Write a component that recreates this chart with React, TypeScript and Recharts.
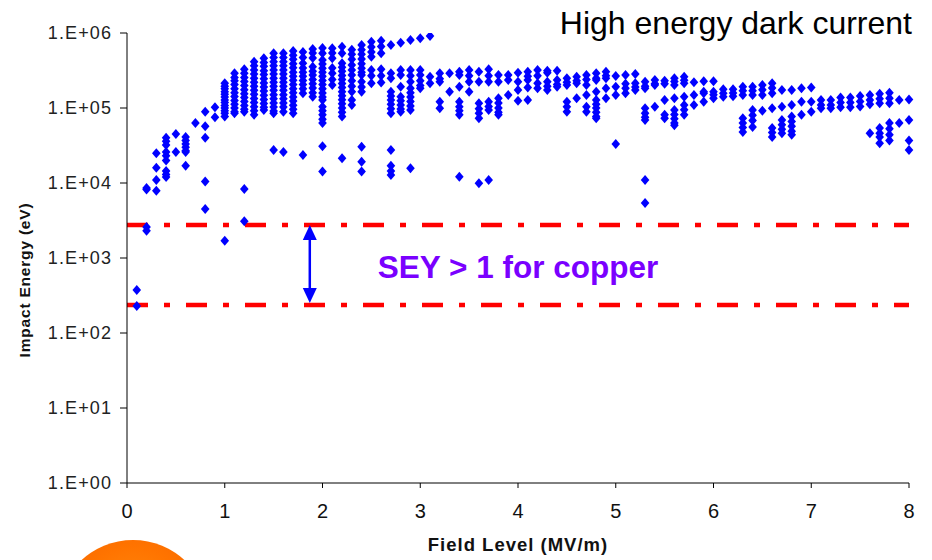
import React from 'react';
import { ScatterChart, Scatter, XAxis, YAxis, ReferenceLine, ReferenceDot } from 'recharts';

// Field level (MV/m) of each column of impacts
const fieldLevels = [
  0.1, 0.2, 0.3, 0.4, 0.5, 0.6, 0.7, 0.8, 0.9, 1.0,
  1.1, 1.2, 1.3, 1.4, 1.5, 1.6, 1.7, 1.8, 1.9, 2.0,
  2.1, 2.2, 2.3, 2.4, 2.5, 2.6, 2.7, 2.8, 2.9, 3.0,
  3.1, 3.2, 3.3, 3.4, 3.5, 3.6, 3.7, 3.8, 3.9, 4.0,
  4.1, 4.2, 4.3, 4.4, 4.5, 4.6, 4.7, 4.8, 4.9, 5.0,
  5.1, 5.2, 5.3, 5.4, 5.5, 5.6, 5.7, 5.8, 5.9, 6.0,
  6.1, 6.2, 6.3, 6.4, 6.5, 6.6, 6.7, 6.8, 6.9, 7.0,
  7.1, 7.2, 7.3, 7.4, 7.5, 7.6, 7.7, 7.8, 7.9, 8.0,
];

// Impact energies (eV) read for each field level, same order
const impactEnergies: number[][] = [
  [374, 229],
  [8600, 8200, 2600, 2300],
  [25000, 16000, 11000, 7900],
  [40000, 36000, 32000, 26000, 23000, 20000, 14500, 13000, 12000],
  [45000, 26000],
  [41000, 37000, 33000, 30000, 27000, 26000, 17000],
  [63000],
  [89000, 57000, 40000, 10500, 4500],
  [102000, 75000],
  [213000, 195000, 180000, 165000, 152000, 140000, 128000, 118000, 108000, 100000, 92000, 85000, 77000, 1700],
  [290000, 255000, 230000, 205000, 180000, 160000, 142000, 126000, 112000, 100000, 89000, 85000],
  [328000, 290000, 255000, 225000, 200000, 175000, 155000, 138000, 122000, 108000, 96000, 89000, 8300, 3100],
  [414000, 365000, 320000, 285000, 250000, 220000, 195000, 172000, 152000, 134000, 118000, 104000, 92000, 81000],
  [460000, 405000, 360000, 315000, 280000, 245000, 215000, 190000, 168000, 148000, 130000, 115000, 102000, 94000],
  [536000, 470000, 415000, 365000, 320000, 285000, 250000, 220000, 195000, 172000, 150000, 133000, 117000, 103000, 91000, 85000, 27500],
  [536000, 470000, 415000, 365000, 320000, 285000, 250000, 220000, 195000, 172000, 150000, 133000, 117000, 103000, 89000, 26000],
  [575000, 505000, 445000, 390000, 345000, 300000, 265000, 235000, 205000, 180000, 160000, 140000, 124000, 109000, 96000, 85000],
  [560000, 470000, 394000, 341000, 300000, 265000, 232000, 205000, 180000, 157000, 23600],
  [612000, 540000, 465000, 355000, 310000, 275000, 240000, 210000, 185000, 160000, 141000],
  [631000, 536000, 437000, 385000, 340000, 300000, 265000, 232000, 205000, 180000, 158000, 140000, 128000, 104000, 92000, 81000, 71000, 63000, 31000, 14200],
  [625000, 540000, 460000, 341000, 290000, 240000, 203000],
  [657000, 536000, 394000, 350000, 310000, 272000, 240000, 212000, 187000, 165000, 146000, 129000, 114000, 100000, 88000, 77000, 21300],
  [600000, 520000, 445000, 374000, 321000, 275000, 230000, 195000, 165000, 128000, 110000],
  [692000, 600000, 520000, 450000, 390000, 340000, 300000, 275000, 224000, 190000, 165000, 30500, 19200, 14200],
  [766000, 650000, 560000, 483000, 321000, 270000, 213000],
  [789000, 660000, 536000, 328000, 270000, 218000],
  [692000, 290000, 249000, 165000, 145000, 128000, 112000, 98000, 85000, 27500, 17000, 14500, 12800],
  [743000, 321000, 275000, 192000, 141000, 125000, 110000, 97000, 89000],
  [807000, 321000, 270000, 224000, 183000, 160000, 140000, 122000, 106000, 94000, 15700],
  [850000, 321000, 275000, 230000, 200000, 183000],
  [912000, 261000, 213000],
  [290000, 245000, 224000, 121000, 99000],
  [290000, 165000],
  [305000, 275000, 192000, 121000, 104000, 92000, 81000, 12100],
  [321000, 270000, 224000, 165000],
  [305000, 224000, 116000, 98000, 85000, 73000, 9900],
  [328000, 270000, 224000, 121000, 105000, 94000, 11000],
  [275000, 224000, 135000, 117000, 100000, 88000, 81000],
  [275000, 236000, 149000],
  [296000, 224000, 174000, 125000],
  [305000, 265000, 236000, 187000, 128000],
  [321000, 270000, 213000, 183000],
  [314000, 296000, 224000, 195000, 174000],
  [314000, 236000, 205000, 192000],
  [249000, 220000, 203000, 121000, 104000, 89000],
  [261000, 230000, 213000, 135000],
  [275000, 240000, 203000, 149000, 104000, 89000],
  [290000, 250000, 236000, 165000, 128000, 112000, 100000, 88000, 77000, 73000],
  [305000, 270000, 249000, 183000, 135000],
  [267000, 192000, 149000, 33000],
  [275000, 210000, 183000, 157000],
  [285000, 213000, 190000, 174000],
  [224000, 195000, 183000, 99000, 85000, 75000, 69000, 11000, 5400],
  [236000, 210000, 203000, 104000],
  [230000, 210000, 128000, 81000, 73000],
  [249000, 225000, 203000, 135000, 94000, 82000, 72000, 63000, 59000],
  [261000, 235000, 213000, 141000, 110000, 95000, 81000],
  [220000, 149000, 110000],
  [228000, 165000, 157000, 121000],
  [228000, 165000, 150000, 135000],
  [178000, 157000, 141000],
  [178000, 158000, 143000],
  [192000, 170000, 149000, 73000, 63000, 55000, 48000],
  [192000, 170000, 149000, 94000, 80000, 68000, 56000],
  [203000, 175000, 149000, 92000],
  [213000, 185000, 157000, 99000, 54000, 47000, 41000],
  [174000, 104000, 69000, 60000, 52000, 46000],
  [174000, 110000, 77000, 66000, 57000, 49000, 44000],
  [183000, 121000, 81000],
  [187000, 121000, 89000],
  [128000, 110000, 99000],
  [128000, 110000, 99000],
  [138000, 118000, 102000],
  [138000, 118000, 102000],
  [145000, 122000, 105000],
  [149000, 128000, 112000, 46000],
  [155000, 133000, 116000, 54000, 46000, 41000, 34000],
  [160000, 135000, 116000, 63000, 53000, 44000, 37000],
  [128000, 63000],
  [130000, 69000, 37000, 27500],
];

const xTicks = [0, 1, 2, 3, 4, 5, 6, 7, 8];
const yTicks = [1, 10, 100, 1000, 10000, 100000, 1000000];
const seyBounds = [2750, 236]; // SEY > 1 energy window for copper (eV)
const arrowField = 1.87;
const seyLabelPos = { x: 4.0, y: 760 };
const titleText = 'High energy dark current';
const seyText = 'SEY > 1 for copper';

const points = fieldLevels.flatMap((f, i) => impactEnergies[i].map((e) => ({ x: f, y: e })));

const fmtY = (v: number) => `1.E+${String(Math.round(Math.log10(v))).padStart(2, '0')}`;

const Diamond = (props: any) => {
  const { cx, cy } = props;
  if (cx == null || cy == null) return null;
  return (
    <path
      d={`M${cx},${cy - 5} L${cx + 4.3},${cy} L${cx},${cy + 5} L${cx - 4.3},${cy} Z`}
      fill="#0000FF"
    />
  );
};

const DoubleArrow = (props: any) => {
  const { x1, y1, x2, y2 } = props;
  const x = x1;
  const top = Math.min(y1, y2);
  const bot = Math.max(y1, y2);
  const hw = 7;
  const hh = 15;
  return (
    <g>
      <line x1={x} y1={top + hh - 1} x2={x2} y2={bot - hh + 1} stroke="#0000FF" strokeWidth={2.5} />
      <path d={`M${x},${top} L${x + hw},${top + hh} L${x - hw},${top + hh} Z`} fill="#0000FF" />
      <path d={`M${x},${bot - 2} L${x + hw},${bot - hh - 2} L${x - hw},${bot - hh - 2} Z`} fill="#0000FF" />
    </g>
  );
};

const tickFont = 'Liberation Sans, Arial, sans-serif';

export default function App() {
  return (
    <div style={{ position: 'relative', width: 932, height: 560, overflow: 'hidden', background: '#fff' }}>
      <style>{'body{margin:0;}'}</style>
      <div
        style={{
          position: 'absolute',
          left: 57,
          top: 540,
          width: 152,
          height: 152,
          borderRadius: '50%',
          background: 'radial-gradient(circle at 50% 40%, #ff8c10 0%, #ff7400 45%, #f25c00 100%)',
        }}
      />
      <ScatterChart width={932} height={560} margin={{ top: 33, right: 23, bottom: 0, left: 0 }}>
        <XAxis
          type="number"
          dataKey="x"
          domain={[0, 8]}
          ticks={xTicks}
          interval={0}
          height={77}
          tickSize={5}
          tickMargin={16}
          axisLine={{ stroke: '#000', strokeWidth: 1 }}
          tickLine={{ stroke: '#000', strokeWidth: 1 }}
          tick={{ fill: '#111', fontSize: 20, fontFamily: tickFont }}
          label={{
            content: (p: any) => {
              const vb = p.viewBox || { x: 127, y: 483, width: 782, height: 77 };
              return (
                <text
                  x={vb.x + vb.width / 2}
                  y={551}
                  textAnchor="middle"
                  fontFamily={tickFont}
                  fontWeight="bold"
                  fontSize={18.5}
                  letterSpacing={1}
                  fill="#111"
                >
                  Field Level (MV/m)
                </text>
              );
            },
          }}
        />
        <YAxis
          type="number"
          dataKey="y"
          scale="log"
          domain={[1, 1000000]}
          allowDataOverflow
          ticks={yTicks}
          interval={0}
          width={127}
          tickSize={7}
          tickMargin={8}
          tickFormatter={fmtY}
          axisLine={{ stroke: '#000', strokeWidth: 1 }}
          tickLine={{ stroke: '#000', strokeWidth: 1 }}
          tick={{ fill: '#222', fontSize: 18, fontFamily: tickFont, letterSpacing: 1.1 }}
          label={{
            content: () => (
              <text
                x={30}
                y={280}
                transform="rotate(-90, 30, 280)"
                textAnchor="middle"
                fontFamily={tickFont}
                fontWeight="bold"
                fontSize={15.5}
                letterSpacing={0.8}
                fill="#111"
              >
                Impact Energy (eV)
              </text>
            ),
          }}
        />
        <Scatter data={points} shape={Diamond} isAnimationActive={false} />
        {seyBounds.map((b) => (
          <ReferenceLine
            key={b}
            y={b}
            stroke="#FF0000"
            strokeWidth={4.5}
            strokeDasharray="21 16 6 16"
          />
        ))}
        <ReferenceLine
          segment={[
            { x: arrowField, y: seyBounds[0] },
            { x: arrowField, y: seyBounds[1] },
          ]}
          shape={DoubleArrow}
        />
        <ReferenceDot
          x={seyLabelPos.x}
          y={seyLabelPos.y}
          r={0}
          fill="none"
          stroke="none"
          label={{
            value: seyText,
            position: 'center',
            fill: '#7A00FF',
            fontSize: 31.5,
            fontWeight: 'bold',
            fontFamily: tickFont,
          }}
        />
      </ScatterChart>
      <div
        style={{
          position: 'absolute',
          right: 20,
          top: 7,
          fontFamily: tickFont,
          fontSize: 32,
          lineHeight: '32px',
          color: '#000',
          whiteSpace: 'nowrap',
        }}
      >
        {titleText}
      </div>
    </div>
  );
}
